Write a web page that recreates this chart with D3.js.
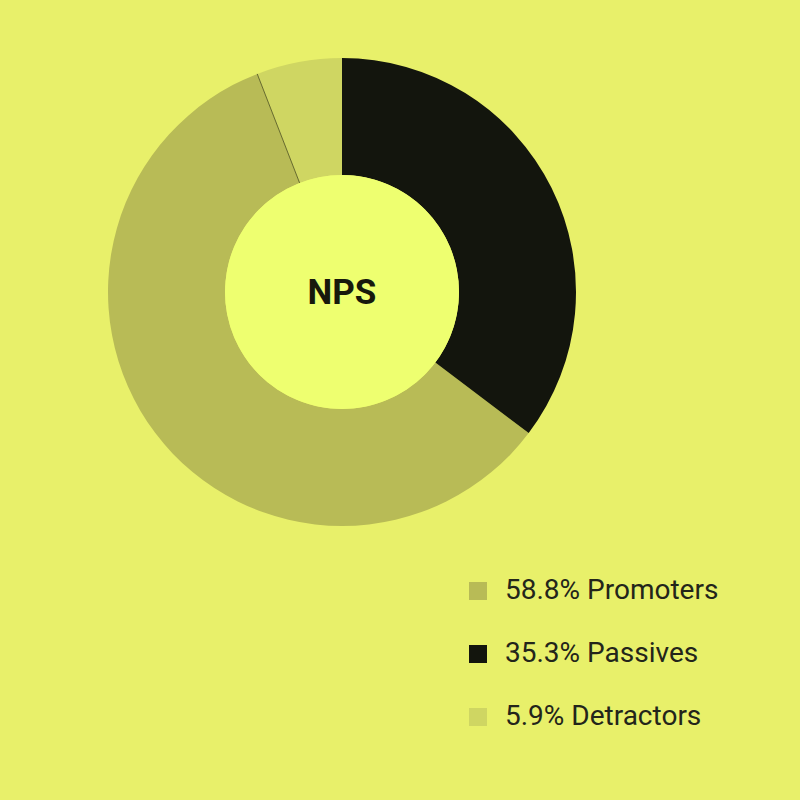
<!DOCTYPE html>
<html>
<head>
<meta charset="utf-8">
<script src="https://cdn.jsdelivr.net/npm/d3@7"></script>
<style>
  html, body { margin: 0; padding: 0; background: #e8f06a; }
  svg { display: block; font-family: Roboto, sans-serif; }
</style>
</head>
<body>
<svg id="chart"></svg>
<script>
var labels = ['Promoters', 'Passives', 'Detractors'];
var shares = [58.8, 35.3, 5.9];
var colors = ['#b8bb56', '#13150d', '#cfd662'];
// order the slices go round from 12 o'clock
var sliceOrder = [1, 0, 2];

var svg = d3.select('#chart')
  .attr('width', 800)
  .attr('height', 800);

svg.append('rect')
  .attr('width', 800)
  .attr('height', 800)
  .attr('fill', '#e8f06a');

var data = labels.map(function(l, i) {
  return {label: l, value: shares[i], color: colors[i], order: sliceOrder.indexOf(i)};
});

var pie = d3.pie()
  .value(function(d) { return d.value; })
  .sort(function(a, b) { return a.order - b.order; });

var inner = 117, outer = 234;

var arc = d3.arc()
  .innerRadius(inner)
  .outerRadius(outer);

var g = svg.append('g')
  .attr('transform', 'translate(342,292)');

var arcs = pie(data);

g.selectAll('path')
  .data(arcs)
  .enter().append('path')
  .attr('d', arc)
  .attr('fill', function(d) { return d.data.color; });

// thin seam where the last slice meets the big one
var seam = arcs.filter(function(d) { return d.data.label == 'Detractors'; })[0].startAngle;
g.append('line')
  .attr('x1', inner * Math.sin(seam))
  .attr('y1', -inner * Math.cos(seam))
  .attr('x2', outer * Math.sin(seam))
  .attr('y2', -outer * Math.cos(seam))
  .attr('stroke', '#4a4c22')
  .attr('stroke-width', 0.8);

g.append('circle')
  .attr('r', inner)
  .attr('fill', '#eeff70');

g.append('text')
  .attr('text-anchor', 'middle')
  .attr('y', 12)
  .attr('font-size', 35)
  .attr('font-weight', 'bold')
  .attr('fill', '#17190c')
  .text('NPS');

var legendY = d3.scalePoint()
  .domain(labels)
  .range([590, 716]);

var legend = svg.selectAll('.legend')
  .data(data)
  .enter().append('g')
  .attr('class', 'legend')
  .attr('transform', function(d) { return 'translate(469,' + legendY(d.label) + ')'; });

legend.append('rect')
  .attr('x', 0)
  .attr('y', -8)
  .attr('width', 18)
  .attr('height', 18)
  .attr('fill', function(d) { return d.color; });

legend.append('text')
  .attr('x', 36)
  .attr('y', 9)
  .attr('font-size', 28)
  .attr('fill', '#23251a')
  .text(function(d) { return d3.format('.1f')(d.value) + '% ' + d.label; });
</script>
</body>
</html>
